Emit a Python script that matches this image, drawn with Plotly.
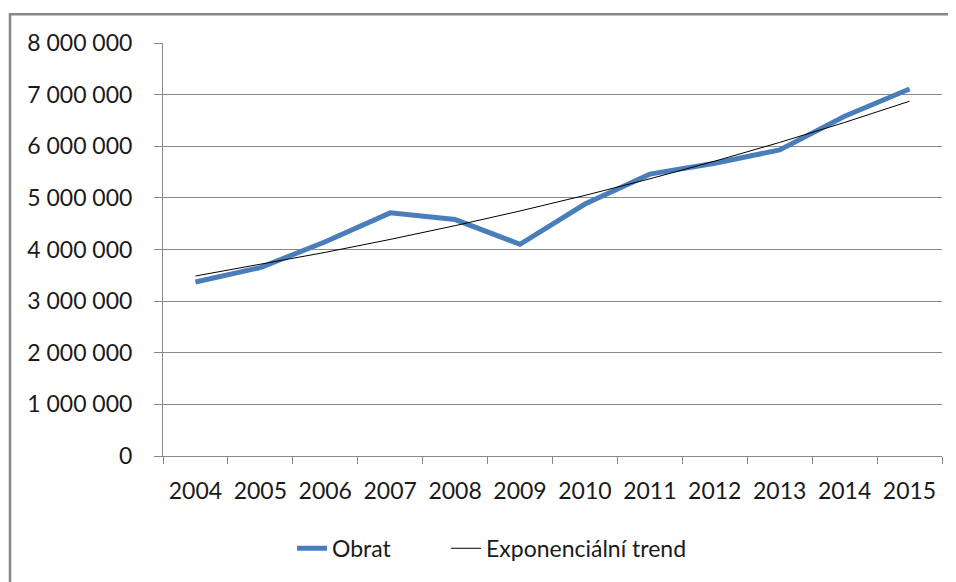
import numpy as np
import plotly.graph_objects as go

years = ["2004", "2005", "2006", "2007", "2008", "2009", "2010", "2011", "2012", "2013", "2014", "2015"]
obrat = [3370000, 3650000, 4150000, 4710000, 4580000, 4100000, 4880000, 5460000, 5670000, 5930000, 6580000, 7110000]
y_ticks = [0, 1000000, 2000000, 3000000, 4000000, 5000000, 6000000, 7000000, 8000000]

# exponential trend fitted to the data (as Excel does)
idx = np.arange(len(obrat))
b, a = np.polyfit(idx, np.log(obrat), 1)
trend = np.exp(a + b * idx)

# page body adds an 8px offset; figure sized to fit the window
OFF = 8
W, H = 956 - OFF, 582 - OFF
L, T = 163 - OFF, 43 - OFF
R = W - (942 - OFF)
B = H - (459 - OFF)
pw, ph = W - L - R, H - T - B

FONT = "Lato"
grid = "#888888"
txt = "#1a1a1a"

fig = go.Figure()
fig.add_trace(go.Scatter(x=years, y=obrat, mode="lines", name="Obrat",
                         line=dict(color="#4A7EBB", width=5), legend="legend"))
fig.add_trace(go.Scatter(x=years, y=trend, mode="lines", name="Exponenciální trend",
                         line=dict(color="#000000", width=1), legend="legend2"))

def px_x(p):
    return (p - OFF - L) / pw

def px_y(p):
    return (H - B - (p - OFF)) / ph

fig.add_shape(type="rect", xref="paper", yref="paper",
              x0=px_x(10), x1=px_x(970), y0=px_y(14), y1=px_y(600),
              line=dict(color="#878787", width=2.5), fillcolor="rgba(0,0,0,0)", layer="below")

leg_common = dict(orientation="h", xanchor="left", y=px_y(552), yanchor="middle",
                  font=dict(family=FONT, size=23, color=txt), bgcolor="rgba(0,0,0,0)")

fig.update_layout(
    width=W, height=H,
    margin=dict(l=L, r=R, t=T, b=B, pad=0),
    paper_bgcolor="white", plot_bgcolor="white",
    font=dict(family=FONT, size=23, color=txt),
    separators=", ",
    showlegend=True,
    legend=dict(x=px_x(292), **leg_common),
    legend2=dict(x=px_x(446), **leg_common),
    xaxis=dict(type="category", range=[-0.5, 11.5], showgrid=False, showline=True,
               linecolor=grid, linewidth=1, ticks="outside", ticklen=7, tickcolor=grid,
               tickson="boundaries", ticklabelstandoff=14,
               tickfont=dict(family=FONT, size=23, color=txt),
               zeroline=False, fixedrange=True),
    yaxis=dict(range=[0, 8000000], tickvals=y_ticks, tickformat=",d", showgrid=True,
               gridcolor=grid, gridwidth=1, showline=True, linecolor=grid, linewidth=1,
               ticks="outside", ticklen=8, tickcolor=grid, ticklabelstandoff=17,
               tickfont=dict(family=FONT, size=23, color=txt),
               zeroline=False, fixedrange=True),
)

fig.write_html("out.html")
